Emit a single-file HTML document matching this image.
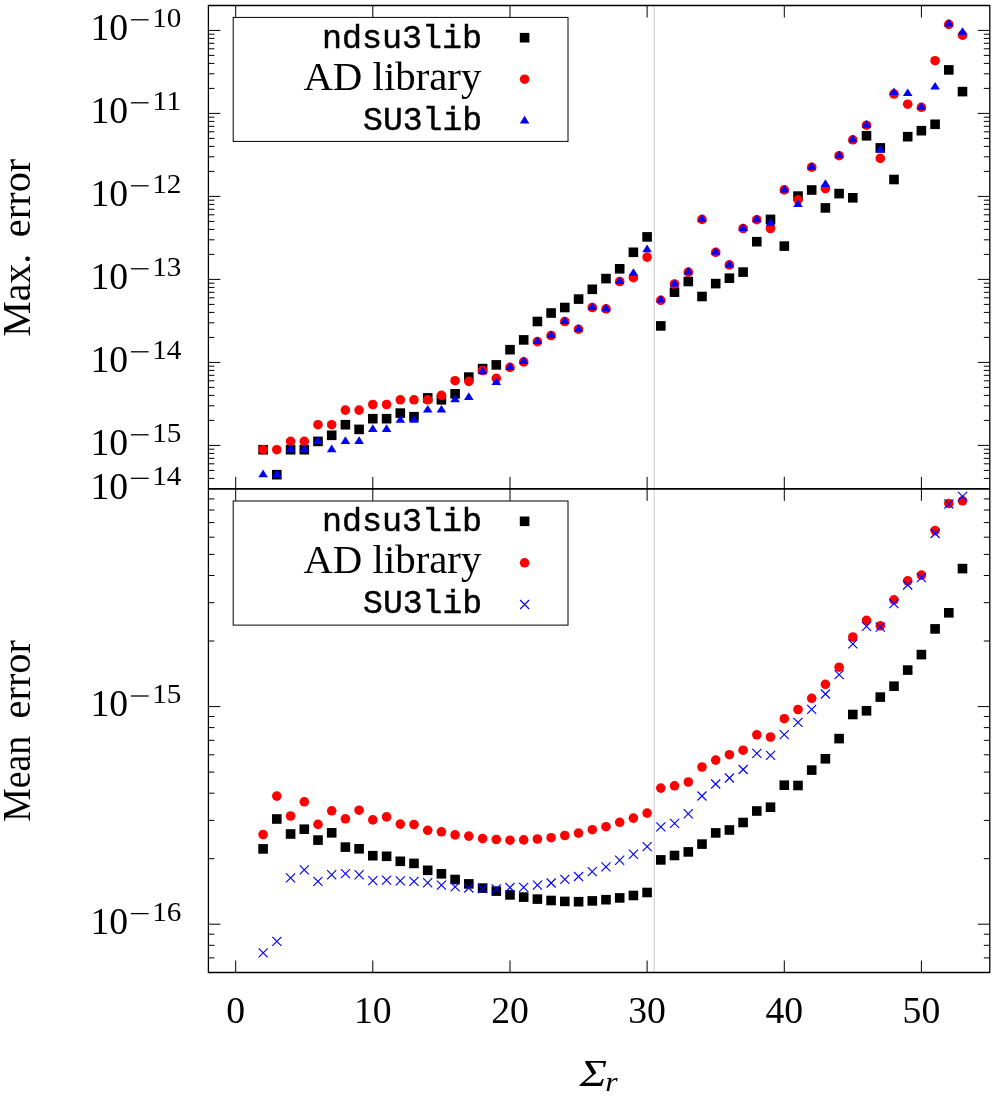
<!DOCTYPE html>
<html><head><meta charset="utf-8"><title>Error plot</title>
<style>
html,body{margin:0;padding:0;background:#fff;}
svg{display:block;will-change:transform}
text{fill:#000}
.s{font-family:"Liberation Serif",serif;font-size:38.5px}
.ss{font-family:"Liberation Serif",serif;font-size:26.5px}
.m{font-family:"Liberation Mono",monospace;font-size:32.3px;stroke:#000;stroke-width:0.45px}
.sl{font-family:"Liberation Serif",serif;font-size:40px}
</style></head><body>
<svg width="996" height="1098" viewBox="0 0 996 1098">
<rect width="996" height="1098" fill="#fff"/>
<path d="M654.3 5.5V972.5" stroke="#d6d6d6" stroke-width="1.3" fill="none"/>
<path d="M235.7 5.5v12M235.7 476.9v24M235.7 972.5v-12M372.8 5.5v12M372.8 476.9v24M372.8 972.5v-12M510.0 5.5v12M510.0 476.9v24M510.0 972.5v-12M647.1 5.5v12M647.1 476.9v24M647.1 972.5v-12M784.3 5.5v12M784.3 476.9v24M784.3 972.5v-12M921.4 5.5v12M921.4 476.9v24M921.4 972.5v-12M208.4 478.4h6M989.8 478.4h-6M208.4 470.4h6M989.8 470.4h-6M208.4 463.8h6M989.8 463.8h-6M208.4 458.3h6M989.8 458.3h-6M208.4 453.4h6M989.8 453.4h-6M208.4 449.2h6M989.8 449.2h-6M208.4 445.4h12M989.8 445.4h-12M208.4 420.4h6M989.8 420.4h-6M208.4 405.8h6M989.8 405.8h-6M208.4 395.4h6M989.8 395.4h-6M208.4 387.4h6M989.8 387.4h-6M208.4 380.8h6M989.8 380.8h-6M208.4 375.3h6M989.8 375.3h-6M208.4 370.4h6M989.8 370.4h-6M208.4 366.2h6M989.8 366.2h-6M208.4 362.4h12M989.8 362.4h-12M208.4 337.4h6M989.8 337.4h-6M208.4 322.8h6M989.8 322.8h-6M208.4 312.4h6M989.8 312.4h-6M208.4 304.4h6M989.8 304.4h-6M208.4 297.8h6M989.8 297.8h-6M208.4 292.3h6M989.8 292.3h-6M208.4 287.4h6M989.8 287.4h-6M208.4 283.2h6M989.8 283.2h-6M208.4 279.4h12M989.8 279.4h-12M208.4 254.4h6M989.8 254.4h-6M208.4 239.8h6M989.8 239.8h-6M208.4 229.4h6M989.8 229.4h-6M208.4 221.4h6M989.8 221.4h-6M208.4 214.8h6M989.8 214.8h-6M208.4 209.3h6M989.8 209.3h-6M208.4 204.4h6M989.8 204.4h-6M208.4 200.2h6M989.8 200.2h-6M208.4 196.4h12M989.8 196.4h-12M208.4 171.4h6M989.8 171.4h-6M208.4 156.8h6M989.8 156.8h-6M208.4 146.4h6M989.8 146.4h-6M208.4 138.4h6M989.8 138.4h-6M208.4 131.8h6M989.8 131.8h-6M208.4 126.3h6M989.8 126.3h-6M208.4 121.4h6M989.8 121.4h-6M208.4 117.2h6M989.8 117.2h-6M208.4 113.4h12M989.8 113.4h-12M208.4 88.4h6M989.8 88.4h-6M208.4 73.8h6M989.8 73.8h-6M208.4 63.4h6M989.8 63.4h-6M208.4 55.4h6M989.8 55.4h-6M208.4 48.8h6M989.8 48.8h-6M208.4 43.3h6M989.8 43.3h-6M208.4 38.4h6M989.8 38.4h-6M208.4 34.2h6M989.8 34.2h-6M208.4 30.4h12M989.8 30.4h-12M208.4 957.9h6M989.8 957.9h-6M208.4 945.3h6M989.8 945.3h-6M208.4 934.2h6M989.8 934.2h-6M208.4 924.2h12M989.8 924.2h-12M208.4 858.7h6M989.8 858.7h-6M208.4 820.4h6M989.8 820.4h-6M208.4 793.2h6M989.8 793.2h-6M208.4 772.1h6M989.8 772.1h-6M208.4 754.8h6M989.8 754.8h-6M208.4 740.3h6M989.8 740.3h-6M208.4 727.6h6M989.8 727.6h-6M208.4 716.5h6M989.8 716.5h-6M208.4 706.6h12M989.8 706.6h-12M208.4 641.0h6M989.8 641.0h-6M208.4 602.7h6M989.8 602.7h-6M208.4 575.5h6M989.8 575.5h-6M208.4 554.4h6M989.8 554.4h-6M208.4 537.2h6M989.8 537.2h-6M208.4 522.6h6M989.8 522.6h-6M208.4 510.0h6M989.8 510.0h-6M208.4 498.9h6M989.8 498.9h-6" stroke="#000" stroke-width="1" fill="none"/>
<path d="M208.4 5.5H989.8V972.5H208.4Z" stroke="#000" stroke-width="1.3" fill="none"/>
<path d="M208.4 488.9H989.8" stroke="#000" stroke-width="1.7" fill="none"/>
<g fill="#000"><rect x="258.3" y="444.9" width="9.6" height="9.6"/><rect x="272.0" y="469.9" width="9.6" height="9.6"/><rect x="285.8" y="444.9" width="9.6" height="9.6"/><rect x="299.5" y="444.9" width="9.6" height="9.6"/><rect x="313.2" y="436.6" width="9.6" height="9.6"/><rect x="326.9" y="430.5" width="9.6" height="9.6"/><rect x="340.6" y="419.9" width="9.6" height="9.6"/><rect x="354.3" y="424.6" width="9.6" height="9.6"/><rect x="368.0" y="413.9" width="9.6" height="9.6"/><rect x="381.8" y="413.9" width="9.6" height="9.6"/><rect x="395.5" y="408.3" width="9.6" height="9.6"/><rect x="409.2" y="411.9" width="9.6" height="9.6"/><rect x="422.9" y="393.1" width="9.6" height="9.6"/><rect x="436.6" y="395.0" width="9.6" height="9.6"/><rect x="450.3" y="389.0" width="9.6" height="9.6"/><rect x="464.0" y="372.3" width="9.6" height="9.6"/><rect x="477.8" y="363.8" width="9.6" height="9.6"/><rect x="491.5" y="360.1" width="9.6" height="9.6"/><rect x="505.2" y="344.9" width="9.6" height="9.6"/><rect x="518.9" y="335.1" width="9.6" height="9.6"/><rect x="532.6" y="316.7" width="9.6" height="9.6"/><rect x="546.3" y="308.2" width="9.6" height="9.6"/><rect x="560.0" y="302.7" width="9.6" height="9.6"/><rect x="573.8" y="294.3" width="9.6" height="9.6"/><rect x="587.5" y="284.5" width="9.6" height="9.6"/><rect x="601.2" y="273.8" width="9.6" height="9.6"/><rect x="614.9" y="264.0" width="9.6" height="9.6"/><rect x="628.6" y="247.5" width="9.6" height="9.6"/><rect x="642.3" y="232.1" width="9.6" height="9.6"/><rect x="656.0" y="321.1" width="9.6" height="9.6"/><rect x="669.7" y="287.4" width="9.6" height="9.6"/><rect x="683.5" y="276.7" width="9.6" height="9.6"/><rect x="697.2" y="291.7" width="9.6" height="9.6"/><rect x="710.9" y="278.8" width="9.6" height="9.6"/><rect x="724.6" y="273.4" width="9.6" height="9.6"/><rect x="738.3" y="267.3" width="9.6" height="9.6"/><rect x="752.0" y="236.9" width="9.6" height="9.6"/><rect x="765.7" y="214.6" width="9.6" height="9.6"/><rect x="779.5" y="241.3" width="9.6" height="9.6"/><rect x="793.2" y="191.3" width="9.6" height="9.6"/><rect x="806.9" y="185.2" width="9.6" height="9.6"/><rect x="820.6" y="203.1" width="9.6" height="9.6"/><rect x="834.3" y="188.8" width="9.6" height="9.6"/><rect x="848.0" y="193.0" width="9.6" height="9.6"/><rect x="861.7" y="131.0" width="9.6" height="9.6"/><rect x="875.5" y="143.1" width="9.6" height="9.6"/><rect x="889.2" y="174.7" width="9.6" height="9.6"/><rect x="902.9" y="131.9" width="9.6" height="9.6"/><rect x="916.6" y="125.9" width="9.6" height="9.6"/><rect x="930.3" y="119.5" width="9.6" height="9.6"/><rect x="944.0" y="65.1" width="9.6" height="9.6"/><rect x="957.7" y="86.8" width="9.6" height="9.6"/></g>
<g fill="#f00"><circle cx="263.1" cy="449.7" r="4.8"/><circle cx="276.8" cy="449.7" r="4.8"/><circle cx="290.6" cy="441.4" r="4.8"/><circle cx="304.3" cy="441.4" r="4.8"/><circle cx="318.0" cy="424.7" r="4.8"/><circle cx="331.7" cy="424.7" r="4.8"/><circle cx="345.4" cy="410.1" r="4.8"/><circle cx="359.1" cy="410.1" r="4.8"/><circle cx="372.8" cy="404.5" r="4.8"/><circle cx="386.6" cy="404.5" r="4.8"/><circle cx="400.3" cy="399.8" r="4.8"/><circle cx="414.0" cy="399.8" r="4.8"/><circle cx="427.7" cy="399.8" r="4.8"/><circle cx="441.4" cy="395.3" r="4.8"/><circle cx="455.1" cy="380.7" r="4.8"/><circle cx="468.8" cy="381.4" r="4.8"/><circle cx="482.6" cy="370.5" r="4.8"/><circle cx="496.3" cy="378.3" r="4.8"/><circle cx="510.0" cy="367.4" r="4.8"/><circle cx="523.7" cy="361.9" r="4.8"/><circle cx="537.4" cy="341.6" r="4.8"/><circle cx="551.1" cy="335.5" r="4.8"/><circle cx="564.8" cy="321.5" r="4.8"/><circle cx="578.5" cy="329.2" r="4.8"/><circle cx="592.3" cy="307.5" r="4.8"/><circle cx="606.0" cy="308.9" r="4.8"/><circle cx="619.7" cy="281.5" r="4.8"/><circle cx="633.4" cy="277.7" r="4.8"/><circle cx="647.1" cy="257.1" r="4.8"/><circle cx="660.8" cy="300.3" r="4.8"/><circle cx="674.5" cy="284.0" r="4.8"/><circle cx="688.3" cy="272.1" r="4.8"/><circle cx="702.0" cy="219.4" r="4.8"/><circle cx="715.7" cy="252.3" r="4.8"/><circle cx="729.4" cy="264.9" r="4.8"/><circle cx="743.1" cy="228.5" r="4.8"/><circle cx="756.8" cy="219.7" r="4.8"/><circle cx="770.5" cy="228.5" r="4.8"/><circle cx="784.3" cy="189.9" r="4.8"/><circle cx="798.0" cy="199.8" r="4.8"/><circle cx="811.7" cy="167.2" r="4.8"/><circle cx="825.4" cy="188.6" r="4.8"/><circle cx="839.1" cy="155.7" r="4.8"/><circle cx="852.8" cy="139.8" r="4.8"/><circle cx="866.5" cy="125.2" r="4.8"/><circle cx="880.3" cy="158.4" r="4.8"/><circle cx="894.0" cy="94.0" r="4.8"/><circle cx="907.7" cy="104.2" r="4.8"/><circle cx="921.4" cy="107.3" r="4.8"/><circle cx="935.1" cy="60.7" r="4.8"/><circle cx="948.8" cy="24.4" r="4.8"/><circle cx="962.5" cy="35.2" r="4.8"/></g>
<g fill="#00f"><path d="M258.3 477.2L267.9 477.2L263.1 469.6Z"/><path d="M272.0 477.2L281.6 477.2L276.8 469.6Z"/><path d="M285.8 452.2L295.4 452.2L290.6 444.6Z"/><path d="M299.5 452.2L309.1 452.2L304.3 444.6Z"/><path d="M313.2 443.9L322.8 443.9L318.0 436.3Z"/><path d="M326.9 452.2L336.5 452.2L331.7 444.6Z"/><path d="M340.6 443.9L350.2 443.9L345.4 436.3Z"/><path d="M354.3 443.9L363.9 443.9L359.1 436.3Z"/><path d="M368.0 431.9L377.6 431.9L372.8 424.3Z"/><path d="M381.8 431.9L391.4 431.9L386.6 424.3Z"/><path d="M395.5 422.8L405.1 422.8L400.3 415.2Z"/><path d="M409.2 422.8L418.8 422.8L414.0 415.2Z"/><path d="M422.9 412.6L432.5 412.6L427.7 405.0Z"/><path d="M436.6 412.6L446.2 412.6L441.4 405.0Z"/><path d="M450.3 402.2L459.9 402.2L455.1 394.6Z"/><path d="M464.0 399.9L473.6 399.9L468.8 392.3Z"/><path d="M477.8 374.3L487.4 374.3L482.6 366.7Z"/><path d="M491.5 385.1L501.1 385.1L496.3 377.5Z"/><path d="M505.2 369.9L514.8 369.9L510.0 362.3Z"/><path d="M518.9 364.1L528.5 364.1L523.7 356.5Z"/><path d="M532.6 344.1L542.2 344.1L537.4 336.5Z"/><path d="M546.3 338.0L555.9 338.0L551.1 330.4Z"/><path d="M560.0 324.0L569.6 324.0L564.8 316.4Z"/><path d="M573.8 331.7L583.3 331.7L578.5 324.1Z"/><path d="M587.5 310.0L597.1 310.0L592.3 302.4Z"/><path d="M601.2 311.4L610.8 311.4L606.0 303.8Z"/><path d="M614.9 284.0L624.5 284.0L619.7 276.4Z"/><path d="M628.6 275.8L638.2 275.8L633.4 268.2Z"/><path d="M642.3 252.2L651.9 252.2L647.1 244.6Z"/><path d="M656.0 302.5L665.6 302.5L660.8 294.9Z"/><path d="M669.7 286.5L679.3 286.5L674.5 278.9Z"/><path d="M683.5 274.6L693.1 274.6L688.3 267.0Z"/><path d="M697.2 221.9L706.8 221.9L702.0 214.3Z"/><path d="M710.9 254.8L720.5 254.8L715.7 247.2Z"/><path d="M724.6 267.4L734.2 267.4L729.4 259.8Z"/><path d="M738.3 231.0L747.9 231.0L743.1 223.4Z"/><path d="M752.0 222.2L761.6 222.2L756.8 214.6Z"/><path d="M765.7 225.8L775.3 225.8L770.5 218.2Z"/><path d="M779.5 192.4L789.1 192.4L784.3 184.8Z"/><path d="M793.2 207.0L802.8 207.0L798.0 199.4Z"/><path d="M806.9 169.7L816.5 169.7L811.7 162.1Z"/><path d="M820.6 186.9L830.2 186.9L825.4 179.3Z"/><path d="M834.3 158.2L843.9 158.2L839.1 150.6Z"/><path d="M848.0 142.3L857.6 142.3L852.8 134.7Z"/><path d="M861.7 127.7L871.3 127.7L866.5 120.1Z"/><path d="M875.5 152.6L885.1 152.6L880.3 145.0Z"/><path d="M889.2 95.0L898.8 95.0L894.0 87.4Z"/><path d="M902.9 96.0L912.5 96.0L907.7 88.4Z"/><path d="M916.6 109.8L926.2 109.8L921.4 102.2Z"/><path d="M930.3 89.6L939.9 89.6L935.1 82.0Z"/><path d="M944.0 26.5L953.6 26.5L948.8 18.9Z"/><path d="M957.7 34.8L967.3 34.8L962.5 27.2Z"/></g>
<g fill="#000"><rect x="258.3" y="844.1" width="9.6" height="9.6"/><rect x="272.0" y="814.2" width="9.6" height="9.6"/><rect x="285.8" y="829.2" width="9.6" height="9.6"/><rect x="299.5" y="824.4" width="9.6" height="9.6"/><rect x="313.2" y="835.3" width="9.6" height="9.6"/><rect x="326.9" y="828.0" width="9.6" height="9.6"/><rect x="340.6" y="842.3" width="9.6" height="9.6"/><rect x="354.3" y="844.0" width="9.6" height="9.6"/><rect x="368.0" y="850.9" width="9.6" height="9.6"/><rect x="381.8" y="851.5" width="9.6" height="9.6"/><rect x="395.5" y="856.5" width="9.6" height="9.6"/><rect x="409.2" y="858.6" width="9.6" height="9.6"/><rect x="422.9" y="865.5" width="9.6" height="9.6"/><rect x="436.6" y="869.0" width="9.6" height="9.6"/><rect x="450.3" y="874.7" width="9.6" height="9.6"/><rect x="464.0" y="879.1" width="9.6" height="9.6"/><rect x="477.8" y="883.3" width="9.6" height="9.6"/><rect x="491.5" y="886.3" width="9.6" height="9.6"/><rect x="505.2" y="890.1" width="9.6" height="9.6"/><rect x="518.9" y="892.3" width="9.6" height="9.6"/><rect x="532.6" y="894.3" width="9.6" height="9.6"/><rect x="546.3" y="895.7" width="9.6" height="9.6"/><rect x="560.0" y="896.6" width="9.6" height="9.6"/><rect x="573.8" y="896.9" width="9.6" height="9.6"/><rect x="587.5" y="896.1" width="9.6" height="9.6"/><rect x="601.2" y="894.9" width="9.6" height="9.6"/><rect x="614.9" y="893.1" width="9.6" height="9.6"/><rect x="628.6" y="890.7" width="9.6" height="9.6"/><rect x="642.3" y="887.7" width="9.6" height="9.6"/><rect x="656.0" y="855.1" width="9.6" height="9.6"/><rect x="669.7" y="850.7" width="9.6" height="9.6"/><rect x="683.5" y="847.1" width="9.6" height="9.6"/><rect x="697.2" y="839.3" width="9.6" height="9.6"/><rect x="710.9" y="828.1" width="9.6" height="9.6"/><rect x="724.6" y="825.2" width="9.6" height="9.6"/><rect x="738.3" y="817.7" width="9.6" height="9.6"/><rect x="752.0" y="806.2" width="9.6" height="9.6"/><rect x="765.7" y="802.4" width="9.6" height="9.6"/><rect x="779.5" y="780.4" width="9.6" height="9.6"/><rect x="793.2" y="780.7" width="9.6" height="9.6"/><rect x="806.9" y="765.3" width="9.6" height="9.6"/><rect x="820.6" y="754.0" width="9.6" height="9.6"/><rect x="834.3" y="733.8" width="9.6" height="9.6"/><rect x="848.0" y="709.7" width="9.6" height="9.6"/><rect x="861.7" y="706.0" width="9.6" height="9.6"/><rect x="875.5" y="692.3" width="9.6" height="9.6"/><rect x="889.2" y="681.4" width="9.6" height="9.6"/><rect x="902.9" y="665.3" width="9.6" height="9.6"/><rect x="916.6" y="649.8" width="9.6" height="9.6"/><rect x="930.3" y="624.1" width="9.6" height="9.6"/><rect x="944.0" y="608.0" width="9.6" height="9.6"/><rect x="957.7" y="563.8" width="9.6" height="9.6"/></g>
<g fill="#f00"><circle cx="263.1" cy="834.5" r="4.8"/><circle cx="276.8" cy="796.1" r="4.8"/><circle cx="290.6" cy="816.0" r="4.8"/><circle cx="304.3" cy="801.8" r="4.8"/><circle cx="318.0" cy="824.4" r="4.8"/><circle cx="331.7" cy="810.8" r="4.8"/><circle cx="345.4" cy="818.8" r="4.8"/><circle cx="359.1" cy="810.2" r="4.8"/><circle cx="372.8" cy="819.9" r="4.8"/><circle cx="386.6" cy="816.9" r="4.8"/><circle cx="400.3" cy="824.1" r="4.8"/><circle cx="414.0" cy="824.5" r="4.8"/><circle cx="427.7" cy="830.3" r="4.8"/><circle cx="441.4" cy="831.8" r="4.8"/><circle cx="455.1" cy="834.9" r="4.8"/><circle cx="468.8" cy="836.1" r="4.8"/><circle cx="482.6" cy="838.6" r="4.8"/><circle cx="496.3" cy="839.5" r="4.8"/><circle cx="510.0" cy="840.2" r="4.8"/><circle cx="523.7" cy="839.9" r="4.8"/><circle cx="537.4" cy="839.0" r="4.8"/><circle cx="551.1" cy="837.7" r="4.8"/><circle cx="564.8" cy="835.5" r="4.8"/><circle cx="578.5" cy="833.1" r="4.8"/><circle cx="592.3" cy="829.7" r="4.8"/><circle cx="606.0" cy="826.7" r="4.8"/><circle cx="619.7" cy="822.3" r="4.8"/><circle cx="633.4" cy="818.1" r="4.8"/><circle cx="647.1" cy="813.1" r="4.8"/><circle cx="660.8" cy="788.1" r="4.8"/><circle cx="674.5" cy="785.8" r="4.8"/><circle cx="688.3" cy="782.0" r="4.8"/><circle cx="702.0" cy="767.0" r="4.8"/><circle cx="715.7" cy="760.1" r="4.8"/><circle cx="729.4" cy="754.7" r="4.8"/><circle cx="743.1" cy="750.2" r="4.8"/><circle cx="756.8" cy="734.8" r="4.8"/><circle cx="770.5" cy="737.0" r="4.8"/><circle cx="784.3" cy="718.7" r="4.8"/><circle cx="798.0" cy="709.5" r="4.8"/><circle cx="811.7" cy="698.3" r="4.8"/><circle cx="825.4" cy="684.3" r="4.8"/><circle cx="839.1" cy="667.2" r="4.8"/><circle cx="852.8" cy="637.0" r="4.8"/><circle cx="866.5" cy="620.4" r="4.8"/><circle cx="880.3" cy="625.8" r="4.8"/><circle cx="894.0" cy="599.8" r="4.8"/><circle cx="907.7" cy="580.9" r="4.8"/><circle cx="921.4" cy="575.1" r="4.8"/><circle cx="935.1" cy="530.6" r="4.8"/><circle cx="948.8" cy="503.5" r="4.8"/><circle cx="962.5" cy="500.8" r="4.8"/></g>
<g stroke="#00f" stroke-width="1.15" fill="none"><path d="M258.6 948.4L267.7 957.4M258.6 957.4L267.7 948.4"/><path d="M272.3 936.9L281.4 945.9M272.3 945.9L281.4 936.9"/><path d="M286.0 873.4L295.1 882.4M286.0 882.4L295.1 873.4"/><path d="M299.7 865.4L308.8 874.4M299.7 874.4L308.8 865.4"/><path d="M313.4 876.8L322.5 885.8M313.4 885.8L322.5 876.8"/><path d="M327.1 870.2L336.2 879.3M327.1 879.3L336.2 870.2"/><path d="M340.9 869.1L350.0 878.1M340.9 878.1L350.0 869.1"/><path d="M354.6 870.2L363.7 879.3M354.6 879.3L363.7 870.2"/><path d="M368.3 876.1L377.4 885.1M368.3 885.1L377.4 876.1"/><path d="M382.0 875.6L391.1 884.6M382.0 884.6L391.1 875.6"/><path d="M395.7 876.4L404.8 885.4M395.7 885.4L404.8 876.4"/><path d="M409.4 876.8L418.5 885.8M409.4 885.8L418.5 876.8"/><path d="M423.1 878.2L432.2 887.3M423.1 887.3L432.2 878.2"/><path d="M436.9 880.6L446.0 889.6M436.9 889.6L446.0 880.6"/><path d="M450.6 882.4L459.7 891.4M450.6 891.4L459.7 882.4"/><path d="M464.3 883.5L473.4 892.5M464.3 892.5L473.4 883.5"/><path d="M478.0 884.1L487.1 893.1M478.0 893.1L487.1 884.1"/><path d="M491.7 884.4L500.8 893.4M491.7 893.4L500.8 884.4"/><path d="M505.4 883.0L514.5 892.0M505.4 892.0L514.5 883.0"/><path d="M519.1 882.8L528.2 891.8M519.1 891.8L528.2 882.8"/><path d="M532.9 880.6L542.0 889.6M532.9 889.6L542.0 880.6"/><path d="M546.6 878.5L555.7 887.5M546.6 887.5L555.7 878.5"/><path d="M560.3 874.9L569.4 883.9M560.3 883.9L569.4 874.9"/><path d="M574.0 872.0L583.1 881.0M574.0 881.0L583.1 872.0"/><path d="M587.7 867.2L596.8 876.2M587.7 876.2L596.8 867.2"/><path d="M601.4 862.4L610.5 871.4M601.4 871.4L610.5 862.4"/><path d="M615.1 855.7L624.2 864.8M615.1 864.8L624.2 855.7"/><path d="M628.9 849.7L638.0 858.8M628.9 858.8L638.0 849.7"/><path d="M642.6 842.1L651.7 851.1M642.6 851.1L651.7 842.1"/><path d="M656.3 822.4L665.4 831.4M656.3 831.4L665.4 822.4"/><path d="M670.0 818.8L679.1 827.8M670.0 827.8L679.1 818.8"/><path d="M683.7 809.2L692.8 818.3M683.7 818.3L692.8 809.2"/><path d="M697.4 791.5L706.5 800.5M697.4 800.5L706.5 791.5"/><path d="M711.1 779.5L720.2 788.5M711.1 788.5L720.2 779.5"/><path d="M724.9 773.5L734.0 782.5M724.9 782.5L734.0 773.5"/><path d="M738.6 765.0L747.7 774.0M738.6 774.0L747.7 765.0"/><path d="M752.3 748.8L761.4 757.8M752.3 757.8L761.4 748.8"/><path d="M766.0 750.9L775.1 759.9M766.0 759.9L775.1 750.9"/><path d="M779.7 730.1L788.8 739.1M779.7 739.1L788.8 730.1"/><path d="M793.4 717.8L802.5 726.8M793.4 726.8L802.5 717.8"/><path d="M807.1 704.9L816.2 713.9M807.1 713.9L816.2 704.9"/><path d="M820.9 689.5L830.0 698.5M820.9 698.5L830.0 689.5"/><path d="M834.6 670.1L843.7 679.1M834.6 679.1L843.7 670.1"/><path d="M848.3 639.4L857.4 648.4M848.3 648.4L857.4 639.4"/><path d="M862.0 621.9L871.1 630.9M862.0 630.9L871.1 621.9"/><path d="M875.7 622.6L884.8 631.6M875.7 631.6L884.8 622.6"/><path d="M889.4 599.1L898.5 608.1M889.4 608.1L898.5 599.1"/><path d="M903.1 580.5L912.2 589.5M903.1 589.5L912.2 580.5"/><path d="M916.9 573.1L926.0 582.1M916.9 582.1L926.0 573.1"/><path d="M930.6 529.0L939.7 538.0M930.6 538.0L939.7 529.0"/><path d="M944.3 499.4L953.4 508.6M944.3 508.6L953.4 499.4"/><path d="M958.0 491.8L967.1 500.9M958.0 500.9L967.1 491.8"/></g>
<rect x="233.2" y="17.4" width="334.8" height="124.0" fill="#fff" stroke="#000" stroke-width="1"/>
<text x="482.1" y="47.6" text-anchor="end" class="m" textLength="160" lengthAdjust="spacingAndGlyphs">ndsu3lib</text>
<text x="481.4" y="89.5" text-anchor="end" class="sl" textLength="178" lengthAdjust="spacingAndGlyphs">AD library</text>
<text x="482.1" y="129.7" text-anchor="end" class="m" textLength="119" lengthAdjust="spacingAndGlyphs">SU3lib</text>
<g fill="#000"><rect x="519.8" y="32.9" width="9.6" height="9.6"/></g>
<g fill="#f00"><circle cx="524.6" cy="79.2" r="4.8"/></g>
<g fill="#00f"><path d="M519.8 123.4L529.4 123.4L524.6 115.8Z"/></g>
<rect x="233.2" y="501.0" width="334.8" height="124.1" fill="#fff" stroke="#000" stroke-width="1"/>
<text x="482.1" y="531.2" text-anchor="end" class="m" textLength="160" lengthAdjust="spacingAndGlyphs">ndsu3lib</text>
<text x="481.4" y="573.1" text-anchor="end" class="sl" textLength="178" lengthAdjust="spacingAndGlyphs">AD library</text>
<text x="482.1" y="613.3" text-anchor="end" class="m" textLength="119" lengthAdjust="spacingAndGlyphs">SU3lib</text>
<g fill="#000"><rect x="519.8" y="516.5" width="9.6" height="9.6"/></g>
<g fill="#f00"><circle cx="524.6" cy="562.8" r="4.8"/></g>
<g stroke="#00f" stroke-width="1.15" fill="none"><path d="M520.1 600.0L529.1 609.0M520.1 609.0L529.1 600.0"/></g>
<text x="90.5" y="40.1" class="s" textLength="37.7" lengthAdjust="spacingAndGlyphs">10</text><path d="M130.9 19.8h17.7" stroke="#000" stroke-width="1.3"/><text x="181.4" y="26.8" class="ss" text-anchor="end" textLength="29.2" lengthAdjust="spacingAndGlyphs">10</text>
<text x="90.5" y="123.1" class="s" textLength="37.7" lengthAdjust="spacingAndGlyphs">10</text><path d="M130.9 102.8h17.7" stroke="#000" stroke-width="1.3"/><text x="181.4" y="109.8" class="ss" text-anchor="end" textLength="29.2" lengthAdjust="spacingAndGlyphs">11</text>
<text x="90.5" y="206.1" class="s" textLength="37.7" lengthAdjust="spacingAndGlyphs">10</text><path d="M130.9 185.8h17.7" stroke="#000" stroke-width="1.3"/><text x="181.4" y="192.8" class="ss" text-anchor="end" textLength="29.2" lengthAdjust="spacingAndGlyphs">12</text>
<text x="90.5" y="289.1" class="s" textLength="37.7" lengthAdjust="spacingAndGlyphs">10</text><path d="M130.9 268.8h17.7" stroke="#000" stroke-width="1.3"/><text x="181.4" y="275.8" class="ss" text-anchor="end" textLength="29.2" lengthAdjust="spacingAndGlyphs">13</text>
<text x="90.5" y="372.1" class="s" textLength="37.7" lengthAdjust="spacingAndGlyphs">10</text><path d="M130.9 351.8h17.7" stroke="#000" stroke-width="1.3"/><text x="181.4" y="358.8" class="ss" text-anchor="end" textLength="29.2" lengthAdjust="spacingAndGlyphs">14</text>
<text x="90.5" y="455.1" class="s" textLength="37.7" lengthAdjust="spacingAndGlyphs">10</text><path d="M130.9 434.8h17.7" stroke="#000" stroke-width="1.3"/><text x="181.4" y="441.8" class="ss" text-anchor="end" textLength="29.2" lengthAdjust="spacingAndGlyphs">15</text>
<text x="90.5" y="498.6" class="s" textLength="37.7" lengthAdjust="spacingAndGlyphs">10</text><path d="M130.9 478.3h17.7" stroke="#000" stroke-width="1.3"/><text x="181.4" y="485.3" class="ss" text-anchor="end" textLength="29.2" lengthAdjust="spacingAndGlyphs">14</text>
<text x="90.5" y="716.3" class="s" textLength="37.7" lengthAdjust="spacingAndGlyphs">10</text><path d="M130.9 696.0h17.7" stroke="#000" stroke-width="1.3"/><text x="181.4" y="703.0" class="ss" text-anchor="end" textLength="29.2" lengthAdjust="spacingAndGlyphs">15</text>
<text x="90.5" y="933.9" class="s" textLength="37.7" lengthAdjust="spacingAndGlyphs">10</text><path d="M130.9 913.6h17.7" stroke="#000" stroke-width="1.3"/><text x="181.4" y="920.6" class="ss" text-anchor="end" textLength="29.2" lengthAdjust="spacingAndGlyphs">16</text>
<text x="235.7" y="1023.0" class="s" text-anchor="middle" textLength="18.85" lengthAdjust="spacingAndGlyphs">0</text>
<text x="372.8" y="1023.0" class="s" text-anchor="middle" textLength="37.7" lengthAdjust="spacingAndGlyphs">10</text>
<text x="510.0" y="1023.0" class="s" text-anchor="middle" textLength="37.7" lengthAdjust="spacingAndGlyphs">20</text>
<text x="647.1" y="1023.0" class="s" text-anchor="middle" textLength="37.7" lengthAdjust="spacingAndGlyphs">30</text>
<text x="784.3" y="1023.0" class="s" text-anchor="middle" textLength="37.7" lengthAdjust="spacingAndGlyphs">40</text>
<text x="921.4" y="1023.0" class="s" text-anchor="middle" textLength="37.7" lengthAdjust="spacingAndGlyphs">50</text>
<text x="579.6" y="1086.0" class="s" font-style="italic" textLength="27.5" lengthAdjust="spacingAndGlyphs">Σ</text>
<text x="605.2" y="1090.6" class="ss" font-style="italic" textLength="12.4" lengthAdjust="spacingAndGlyphs">r</text>
<text transform="translate(29.8 336.8) rotate(-90)" class="sl" textLength="83" lengthAdjust="spacingAndGlyphs">Max.</text>
<text transform="translate(29.8 158.7) rotate(-90)" class="sl" text-anchor="end" textLength="78.5" lengthAdjust="spacingAndGlyphs">error</text>
<text transform="translate(29.8 821.8) rotate(-90)" class="sl" textLength="86" lengthAdjust="spacingAndGlyphs">Mean</text>
<text transform="translate(29.8 640.0) rotate(-90)" class="sl" text-anchor="end" textLength="78.5" lengthAdjust="spacingAndGlyphs">error</text>
</svg>
</body></html>
